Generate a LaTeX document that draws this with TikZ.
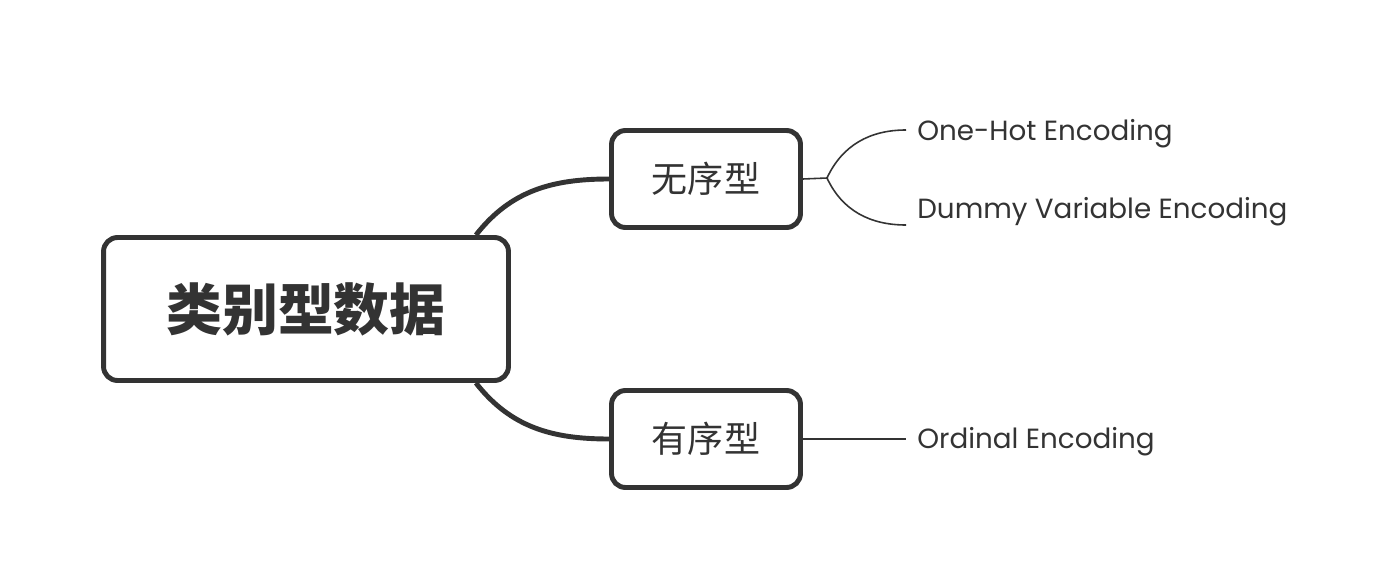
\documentclass[tikz,border=0pt]{standalone}
\usepackage{fontspec}
\setmainfont{Poppins}
\newfontfamily\cjk{Noto Sans CJK SC}
\usetikzlibrary{positioning}
\definecolor{ink}{HTML}{333333}

\begin{document}
\begin{tikzpicture}[x=0.02cm, y=-0.02cm,
        box/.style={draw=ink, line width=2.8pt, rounded corners=0.28cm, fill=white, text=ink, inner sep=0pt},
        root node/.style={box, minimum width=8.1cm, minimum height=2.86cm, font=\cjk\bfseries\fontsize{31.8}{36}\selectfont},
        kind node/.style={box, minimum width=3.78cm, minimum height=1.94cm, font=\cjk\fontsize{20.5}{24}\selectfont},
        leaf/.style={anchor=west, inner sep=0pt, text=ink, font=\fontsize{15.8}{18}\selectfont},
        branch/.style={draw=ink, line width=2.8pt},
        twig/.style={draw=ink, line width=0.9pt}
    ]
        \useasboundingbox (0,0) rectangle (1400,588);

        \node[root node] (c) at (306,309) {类别型数据};
        \node[kind node] (u) at (706,179) {无序型};
        \node[kind node] (o) at (706,439) {有序型};

        \node[leaf] (oh) at (917,134) {One-Hot Encoding};
        \node[leaf] (dv) at (917,212) {Dummy Variable Encoding};
        \node[leaf] (oe) at (917,442) {Ordinal Encoding};

        \coordinate (uf) at (827,178);
        \coordinate (ohe) at (906,130);
        \coordinate (dve) at (906,225);

        \draw[branch] (c.north east) ++(-35,0) to[out=52, in=180] (u.west);
        \draw[branch] (c.south east) ++(-35,0) to[out=-52, in=180] (o.west);

        \draw[twig] (u.east) -- (uf);
        \draw[twig] (uf) to[out=65, in=180] (ohe);
        \draw[twig] (uf) to[out=-65, in=180] (dve);
        \draw[twig] (o.east) -- (o.east -| 906,0);
\end{tikzpicture}
\end{document}
